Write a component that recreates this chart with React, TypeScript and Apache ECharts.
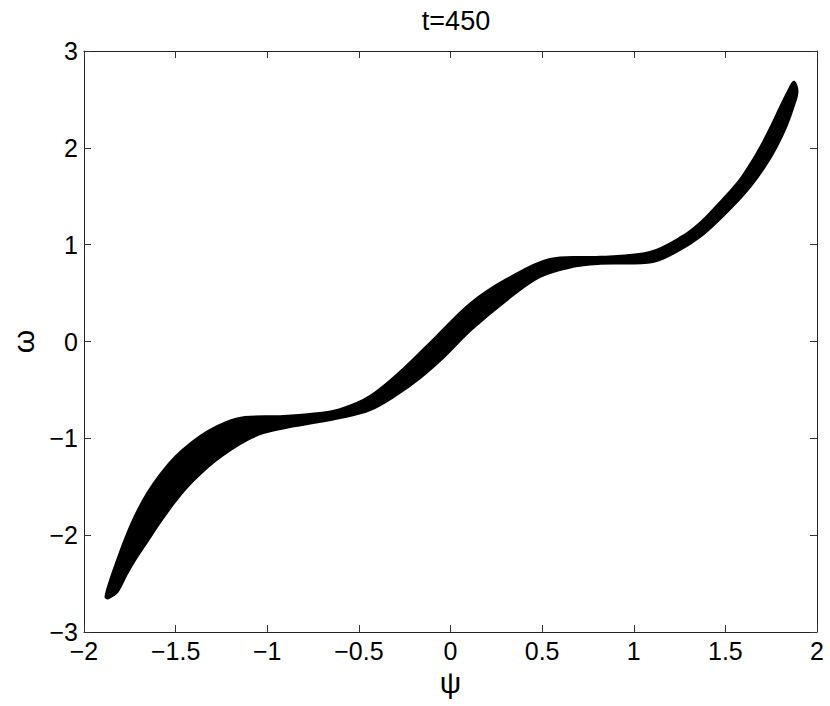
import React, { useEffect, useRef } from "react";
import * as echarts from "echarts";

const titleText = "t=450";
const xName = "ψ";
const yName = "ω";

// Upper/left edge of the band, from bottom-left tip to top-right tip
const psiUpper = [-1.880, -1.858, -1.820, -1.771, -1.716, -1.651, -1.574, -1.498, -1.411, -1.323, -1.225, -1.121, -0.930, -0.767, -0.603, -0.439, -0.259, -0.074, 0.112, 0.308, 0.543, 0.816, 1.089, 1.269, 1.362, 1.443, 1.514, 1.580, 1.645, 1.705, 1.760, 1.809, 1.853, 1.874];
const omegaUpper = [-2.637, -2.482, -2.275, -2.027, -1.789, -1.562, -1.355, -1.189, -1.044, -0.931, -0.838, -0.786, -0.776, -0.755, -0.703, -0.569, -0.290, 0.052, 0.393, 0.641, 0.848, 0.869, 0.920, 1.086, 1.220, 1.375, 1.520, 1.665, 1.851, 2.048, 2.254, 2.451, 2.616, 2.678];

// Lower/right edge of the band, from bottom-left tip to top-right tip
const psiLower = [-1.869, -1.820, -1.771, -1.716, -1.651, -1.585, -1.514, -1.443, -1.367, -1.285, -1.203, -1.111, -1.023, -0.876, -0.750, -0.603, -0.439, -0.303, -0.166, -0.041, 0.112, 0.308, 0.488, 0.668, 0.816, 1.105, 1.252, 1.362, 1.460, 1.553, 1.635, 1.711, 1.776, 1.831, 1.874, 1.891];
const omegaLower = [-2.647, -2.585, -2.410, -2.234, -2.048, -1.861, -1.675, -1.510, -1.365, -1.231, -1.117, -1.013, -0.941, -0.879, -0.838, -0.786, -0.703, -0.558, -0.372, -0.165, 0.124, 0.434, 0.672, 0.776, 0.807, 0.827, 0.951, 1.086, 1.251, 1.427, 1.603, 1.799, 2.006, 2.223, 2.451, 2.585];

const FONT = "'Liberation Sans', Arial, Helvetica, sans-serif";

const fmt = (v: number) => String(v).replace("-", "\u2212");

export default function App() {
  const ref = useRef<HTMLDivElement>(null);
  useEffect(() => {
    if (!ref.current) return;
    const chart = echarts.init(ref.current, undefined, { renderer: "svg" });
    const upperPts = psiUpper.map((x, i) => [x, omegaUpper[i]]);
    const lowerPts = psiLower.map((x, i) => [x, omegaLower[i]]);

    const tickCommon = {
      show: true,
      inside: true,
      length: 7,
      lineStyle: { color: "#333", width: 1 },
    };
    const lineCommon = { show: true, onZero: false, lineStyle: { color: "#222", width: 1 } };

    chart.setOption({
      animation: false,
      backgroundColor: "#fff",
      title: {
        text: titleText,
        left: 451,
        top: 2,
        textAlign: "center",
        textStyle: { fontFamily: FONT, fontSize: 27, fontWeight: "normal", color: "#000" },
      },
      grid: { left: 84, right: 13, top: 51, bottom: 74, containLabel: false },
      xAxis: [
        {
          type: "value",
          position: "bottom",
          min: -2,
          max: 2,
          interval: 0.5,
          name: xName,
          nameLocation: "middle",
          nameGap: 31,
          nameTextStyle: { fontFamily: FONT, fontSize: 30, color: "#000" },
          axisLine: lineCommon,
          axisTick: tickCommon,
          splitLine: { show: false },
          axisLabel: { fontFamily: FONT, fontSize: 25, color: "#000", margin: 6, formatter: fmt },
        },
        {
          type: "value",
          position: "top",
          min: -2,
          max: 2,
          interval: 0.5,
          axisLine: lineCommon,
          axisTick: tickCommon,
          splitLine: { show: false },
          axisLabel: { show: false },
        },
      ],
      yAxis: [
        {
          type: "value",
          position: "left",
          min: -3,
          max: 3,
          interval: 1,
          name: yName,
          nameLocation: "middle",
          nameGap: 42,
          nameRotate: 90,
          nameTextStyle: { fontFamily: FONT, fontSize: 30, color: "#000" },
          axisLine: lineCommon,
          axisTick: tickCommon,
          splitLine: { show: false },
          axisLabel: { fontFamily: FONT, fontSize: 25, color: "#000", margin: 6, formatter: fmt },
        },
        {
          type: "value",
          position: "right",
          min: -3,
          max: 3,
          interval: 1,
          axisLine: lineCommon,
          axisTick: tickCommon,
          splitLine: { show: false },
          axisLabel: { show: false },
        },
      ],
      series: [
        {
          type: "custom",
          coordinateSystem: "cartesian2d",
          xAxisIndex: 0,
          yAxisIndex: 0,
          data: [[0, 0]],
          silent: true,
          renderItem: (_params: any, api: any) => {
            const up = upperPts.map((p) => api.coord(p));
            const lo = lowerPts.map((p) => api.coord(p)).reverse();
            const style = { fill: "#000", stroke: "#000", lineWidth: 3, lineJoin: "round", lineCap: "round" };
            return {
              type: "group",
              children: [
                { type: "polygon", shape: { points: up.concat(lo), smooth: 0.35 }, style },
              ],
            };
          },
        },
      ],
    });
    return () => chart.dispose();
  }, []);
  return (
    <div
      ref={ref}
      style={{ position: "fixed", left: 0, top: 0, width: 830, height: 706 }}
    />
  );
}
